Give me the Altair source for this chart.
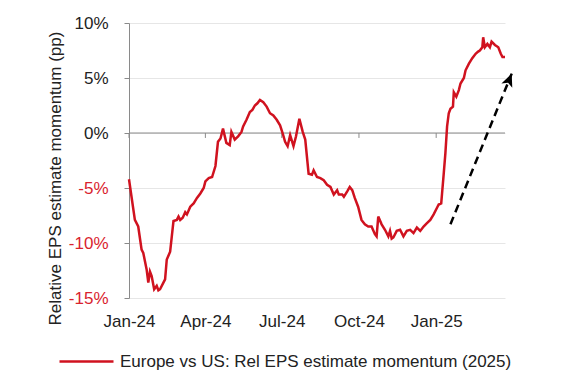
import altair as alt
import pandas as pd

RED = "#d0121f"
TXT = "#222222"

dates = [
    "2024-01-01", "2024-01-04", "2024-01-08", "2024-01-12", "2024-01-16", "2024-01-18",
    "2024-01-22", "2024-01-24", "2024-01-26", "2024-01-28", "2024-01-31", "2024-02-03",
    "2024-02-05", "2024-02-07", "2024-02-11", "2024-02-13", "2024-02-15", "2024-02-19",
    "2024-02-21", "2024-02-23", "2024-02-27", "2024-02-29", "2024-03-02", "2024-03-05",
    "2024-03-08", "2024-03-10", "2024-03-14", "2024-03-18", "2024-03-22", "2024-03-26",
    "2024-03-30", "2024-04-01", "2024-04-05", "2024-04-09", "2024-04-13", "2024-04-16",
    "2024-04-19", "2024-04-22", "2024-04-26", "2024-04-30", "2024-05-02", "2024-05-06",
    "2024-05-10", "2024-05-14", "2024-05-16", "2024-05-20", "2024-05-24", "2024-05-27",
    "2024-05-30", "2024-06-02", "2024-06-05", "2024-06-09", "2024-06-13", "2024-06-17",
    "2024-06-21", "2024-06-25", "2024-06-29", "2024-07-02", "2024-07-05", "2024-07-08",
    "2024-07-11", "2024-07-15", "2024-07-18", "2024-07-22", "2024-07-26", "2024-07-29",
    "2024-08-02", "2024-08-06", "2024-08-08", "2024-08-12", "2024-08-16", "2024-08-20",
    "2024-08-24", "2024-08-28", "2024-09-01", "2024-09-05", "2024-09-07", "2024-09-11",
    "2024-09-13", "2024-09-17", "2024-09-20", "2024-09-23", "2024-09-26", "2024-09-30",
    "2024-10-04", "2024-10-08", "2024-10-12", "2024-10-16", "2024-10-20", "2024-10-22",
    "2024-10-24", "2024-10-28", "2024-11-01", "2024-11-05", "2024-11-07", "2024-11-09",
    "2024-11-11", "2024-11-15", "2024-11-19", "2024-11-23", "2024-11-27", "2024-12-01",
    "2024-12-05", "2024-12-09", "2024-12-13", "2024-12-17", "2024-12-21", "2024-12-25",
    "2024-12-29", "2025-01-02", "2025-01-04", "2025-01-07", "2025-01-08", "2025-01-10",
    "2025-01-12", "2025-01-14", "2025-01-16", "2025-01-18", "2025-01-21", "2025-01-22",
    "2025-01-25", "2025-01-28", "2025-01-30", "2025-02-03", "2025-02-05", "2025-02-09",
    "2025-02-13", "2025-02-17", "2025-02-20", "2025-02-22", "2025-02-25", "2025-02-26",
    "2025-02-28", "2025-03-03", "2025-03-06", "2025-03-08", "2025-03-12", "2025-03-16",
    "2025-03-19", "2025-03-21", "2025-03-24",
]
values = [
    -4.2, -5.8, -7.9, -8.5, -10.6, -10.9,
    -12.4, -13.6, -12.6, -13.0, -14.2, -13.9,
    -14.3, -14.2, -13.6, -13.3, -11.5, -10.8,
    -9.4, -8.0, -7.9, -7.6, -7.9, -7.7,
    -7.2, -7.4, -6.7, -6.4, -5.9, -5.5,
    -5.0, -4.4, -4.1, -4.0, -3.0, -0.8,
    -0.5, 0.4, -0.9, -1.1, 0.1, -0.6,
    -0.3, 0.1, 0.6, 1.2, 1.9, 2.1,
    2.5, 2.7, 3.0, 2.8, 2.4, 1.8,
    1.6, 1.2, 0.7, 0.0, -0.8, -1.2,
    -0.2, -1.2, -0.3, 1.3, 0.1, -0.6,
    -3.7, -3.8, -3.4, -4.0, -4.1, -4.3,
    -4.7, -4.9, -5.6, -5.2, -5.6, -5.6,
    -5.8, -5.3, -4.9, -5.2, -5.9, -6.7,
    -7.9, -8.3, -8.5, -8.5, -9.2, -9.4,
    -7.6, -8.3, -8.8, -9.4, -8.9, -9.6,
    -9.5, -8.9, -8.8, -9.4, -8.9, -8.8,
    -9.1, -8.6, -8.9, -8.5, -8.2, -7.9,
    -7.4, -6.8, -6.5, -6.4, -5.5, -3.7,
    -1.8, 0.6, 1.8, 2.2, 2.4, 3.7,
    3.3, 3.9, 4.5, 5.0, 5.7, 6.3,
    6.8, 7.2, 7.4, 7.5, 7.8, 8.7,
    7.8, 8.1, 7.8, 8.3, 8.0, 7.8,
    7.2, 6.9, 6.9,
]
series_name = "Europe vs US: Rel EPS estimate momentum (2025)"

y_ticks = [-15, -10, -5, 0, 5, 10]
x_tick_dates = ["2024-01-01", "2024-04-01", "2024-07-01", "2024-10-01", "2025-01-01"]

arrow_start_date = "2025-01-18"
arrow_start_value = -8.3
arrow_end_date = "2025-04-01"
arrow_end_value = 5.4

df = pd.DataFrame({"date": dates, "value": values, "series": series_name})
ticks_df = pd.DataFrame({"date": x_tick_dates})
zero_df = pd.DataFrame({"value": [0]})
arrow_df = pd.DataFrame({
    "date": [arrow_start_date], "value": [arrow_start_value],
    "date2": [arrow_end_date], "value2": [arrow_end_value],
})

x_scale = alt.Scale(domain=[alt.DateTime(year=2024, month=1, date=1),
                            alt.DateTime(year=2025, month=3, date=24)])
y_scale = alt.Scale(domain=[-15, 10], nice=False)

x_axis = alt.Axis(
    values=[alt.DateTime(year=int(d[:4]), month=int(d[5:7]), date=int(d[8:])) for d in x_tick_dates],
    format="%b-%y", title=None, ticks=False, domain=False, grid=False,
    labelFontSize=17, labelColor=TXT, labelPadding=15, labelFlush=False,
)
y_axis = alt.Axis(
    values=y_ticks, labelExpr="datum.value + '%'",
    title="Relative EPS estimate momentum (pp)",
    titleFontSize=17, titleFontWeight="normal", titleColor=TXT,
    titleX=-74, titleY=155, titleAngle=270, titleAlign="center", titleBaseline="middle",
    labelFontSize=17, labelPadding=16,
    labelColor={"condition": {"test": "datum.value < 0", "value": "#d9232e"}, "value": TXT},
    domainColor="#8a8a8a", tickColor="#8a8a8a", tickSize=5,
    gridColor="#e6e6e6", gridWidth=1,
)

X = alt.X("date:T", scale=x_scale, axis=x_axis)
Y = alt.Y("value:Q", scale=y_scale, axis=y_axis)

line = alt.Chart(df).mark_line(strokeWidth=2.5, interpolate="linear").encode(
    x=X,
    y=Y,
    color=alt.Color("series:N", scale=alt.Scale(range=[RED]),
                    legend=alt.Legend(
                        title=None, orient="none", legendX=-71, legendY=310,
                        symbolType="stroke", symbolSize=2916, symbolStrokeWidth=2.5,
                        symbolStrokeColor=RED,
                        labelFontSize=17, labelColor=TXT, labelOffset=5, padding=0,
                        labelLimit=600,
                    )),
)

zero = alt.Chart(zero_df).mark_rule(color="#8a8a8a", strokeWidth=1).encode(y=Y)

xticks = alt.Chart(ticks_df).mark_rule(color="#8a8a8a", strokeWidth=1).encode(
    x=X,
    y=alt.datum(0),
    y2=alt.datum(-0.45),
)

arrow_line = alt.Chart(arrow_df).mark_rule(color="black", strokeWidth=2.5, strokeDash=[8, 5]).encode(
    x=X, x2="date2:T", y=Y, y2="value2:Q",
)

arrow_head = alt.Chart(arrow_df).mark_point(
    shape="M0,0L-0.45,1L0,0.75L0.45,1Z", filled=True, color="black",
    opacity=1, size=676, angle=22,
).encode(
    x=alt.X("date2:T", scale=x_scale, axis=x_axis),
    y=alt.Y("value2:Q", scale=y_scale, axis=y_axis),
)

chart = alt.layer(zero, xticks, line, arrow_line, arrow_head).properties(
    width=376, height=275,
    padding={"left": 121, "top": 15, "right": 50, "bottom": 80},
    autosize="none",
).configure(font="Liberation Sans").configure_view(stroke=None)

chart.save("out.html", embed_options={"renderer": "svg", "actions": False})
